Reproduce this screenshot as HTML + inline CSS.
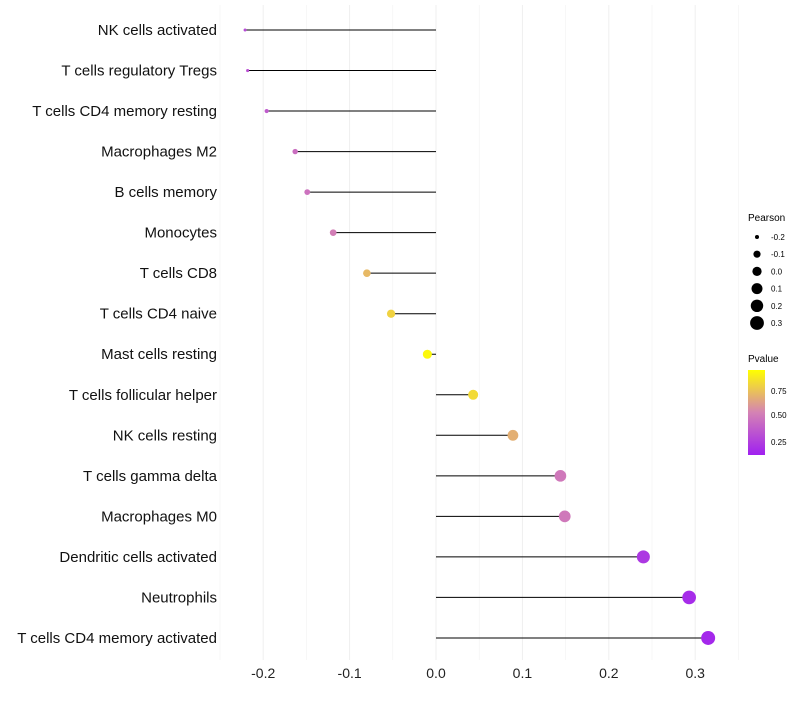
<!DOCTYPE html>
<html><head><meta charset="utf-8"><style>
body{margin:0;background:#fff;font-family:"Liberation Sans",sans-serif}
</style></head><body>
<svg id="chart" width="800" height="700" xmlns="http://www.w3.org/2000/svg">
<defs><linearGradient id="pg" x1="0" y1="1" x2="0" y2="0">
<stop offset="0" stop-color="#A020F0"/><stop offset="0.5" stop-color="#D482B4"/><stop offset="1" stop-color="#FFFF00"/></linearGradient></defs>
<g id="grid"></g><g id="marks"></g><g id="ylabels"></g><g id="xlabels"></g>
<g id="legend">
<text x="748" y="221" font-size="10">Pearson</text>
<g id="sizeleg"></g>
<text x="748" y="362" font-size="10">Pvalue</text>
<rect x="748" y="370" width="17" height="85" fill="url(#pg)"/>
<text x="771" y="394" font-size="8">0.75</text>
<text x="771" y="418" font-size="8">0.50</text>
<text x="771" y="445" font-size="8">0.25</text>
</g>
</svg>
<script>
const cells=["NK cells activated","T cells regulatory  Tregs","T cells CD4 memory resting","Macrophages M2","B cells memory","Monocytes","T cells CD8","T cells CD4 naive","Mast cells resting","T cells follicular helper","NK cells resting","T cells gamma delta","Macrophages M0","Dendritic cells activated","Neutrophils","T cells CD4 memory activated"];
const pearson=[-0.221,-0.218,-0.196,-0.163,-0.149,-0.119,-0.080,-0.052,-0.010,0.043,0.089,0.144,0.149,0.240,0.293,0.315];
const pvalue=[0.22,0.25,0.3,0.4,0.42,0.48,0.72,0.82,0.97,0.85,0.68,0.45,0.45,0.12,0.06,0.04];
const xticks=[-0.2,-0.1,0.0,0.1,0.2,0.3];
const sizeLegend=[-0.2,-0.1,0.0,0.1,0.2,0.3];
const NS="http://www.w3.org/2000/svg";
const x=v=>436+v*864;
const y=i=>30+i*40.53;
const r=v=>Math.sqrt(Math.max(2.25+87*(v+0.221),1));
function lerp(a,b,t){return a.map((c,k)=>Math.round(c+(b[k]-c)*t));}
function col(p){const lo=[160,32,240],mid=[212,130,180],hi=[255,255,0];
 const c=p<0.5?lerp(lo,mid,p/0.5):lerp(mid,hi,(p-0.5)/0.5);return `rgb(${c})`;}
function mk(tag,attrs,parent){const e=document.createElementNS(NS,tag);for(const k in attrs)e.setAttribute(k,attrs[k]);document.getElementById(parent).appendChild(e);return e;}
for(let v=-0.25;v<=0.351;v+=0.05){const g=mk('line',{x1:x(v),x2:x(v),y1:5,y2:660,stroke:'#efefef','stroke-width':Math.abs(Math.round(v*20))%2?0.5:1},'grid');

}
xticks.forEach(v=>{const t=mk('text',{x:x(v),y:678,'font-size':14,'text-anchor':'middle',fill:'#222'},'xlabels');t.textContent=v.toFixed(1);

});
cells.forEach((c,i)=>{
 const l=mk('line',{x1:x(0),x2:x(pearson[i]),y1:y(i),y2:y(i),stroke:'#000','stroke-width':1},'marks');
 
 
 const p=mk('circle',{cx:x(pearson[i]),cy:y(i),r:r(pearson[i]),fill:col(pvalue[i])},'marks');
 
 
 const t=mk('text',{x:217,y:y(i)+5,'font-size':15,'text-anchor':'end',fill:'#111'},'ylabels');t.textContent=c;
 
 
});
sizeLegend.forEach((v,i)=>{const cy=237+i*17.2;
 const c=mk('circle',{cx:757,cy:cy,r:r(v),fill:'#000'},'sizeleg');
 
 
 const t=mk('text',{x:771,y:cy+3,'font-size':8},'sizeleg');t.textContent=v.toFixed(1);
 
 
});
</script>
</body></html>
